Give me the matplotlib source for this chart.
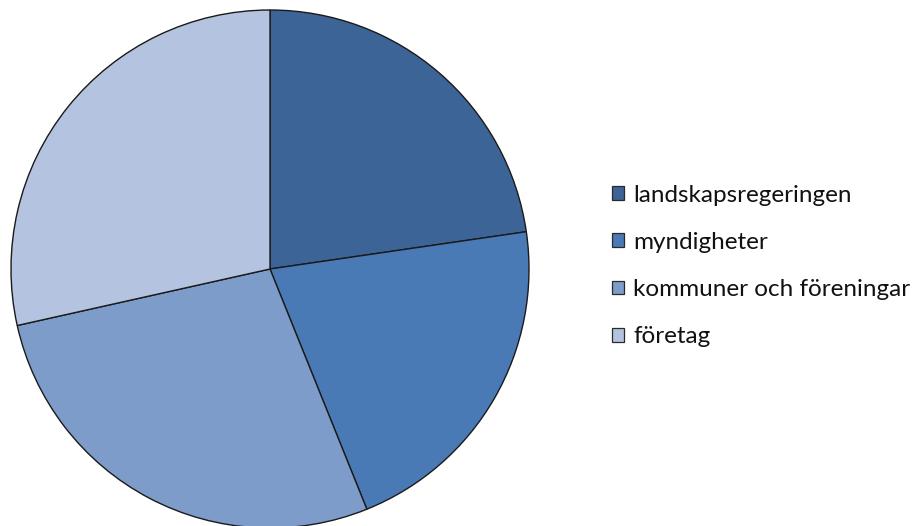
import matplotlib
matplotlib.use("Agg")
import matplotlib.pyplot as plt
from matplotlib.patches import Patch

categories = ["landskapsregeringen", "myndigheter", "kommuner och föreningar", "företag"]
values = [22.7, 21.2, 27.6, 28.5]
colors = ["#3C6496", "#4A7AB5", "#7E9CCA", "#B4C3E0"]

W, H = 920, 526
fig = plt.figure(figsize=(W / 100, H / 100), dpi=100)
fig.patch.set_facecolor("white")

cx, cy, r = 270, 269, 259
ax = fig.add_axes([(cx - r) / W, (H - (cy + r)) / H, 2 * r / W, 2 * r / H])
ax.pie(values, colors=colors, startangle=90, counterclock=False, radius=1,
       wedgeprops=dict(edgecolor="#1a1a1a", linewidth=1.0))
ax.set_xlim(-1, 1)
ax.set_ylim(-1, 1)
ax.set_aspect("equal")
ax.axis("off")

fs = 17.5
fpx = fs * 100 / 72
handles = [Patch(facecolor=c, edgecolor="#2a2a2a", linewidth=0.9) for c in colors]
leg = fig.legend(handles, categories, loc="center left",
                 bbox_to_anchor=(612 / W, 1 - 266 / H),
                 frameon=False, prop=dict(family="Lato", size=fs),
                 handlelength=12 / fpx, handleheight=12 / fpx, handletextpad=9 / fpx,
                 labelspacing=1.08, borderaxespad=0, borderpad=0)
for t in leg.get_texts():
    t.set_color("#111111")

fig.savefig("out.png", dpi=100, facecolor="white")
